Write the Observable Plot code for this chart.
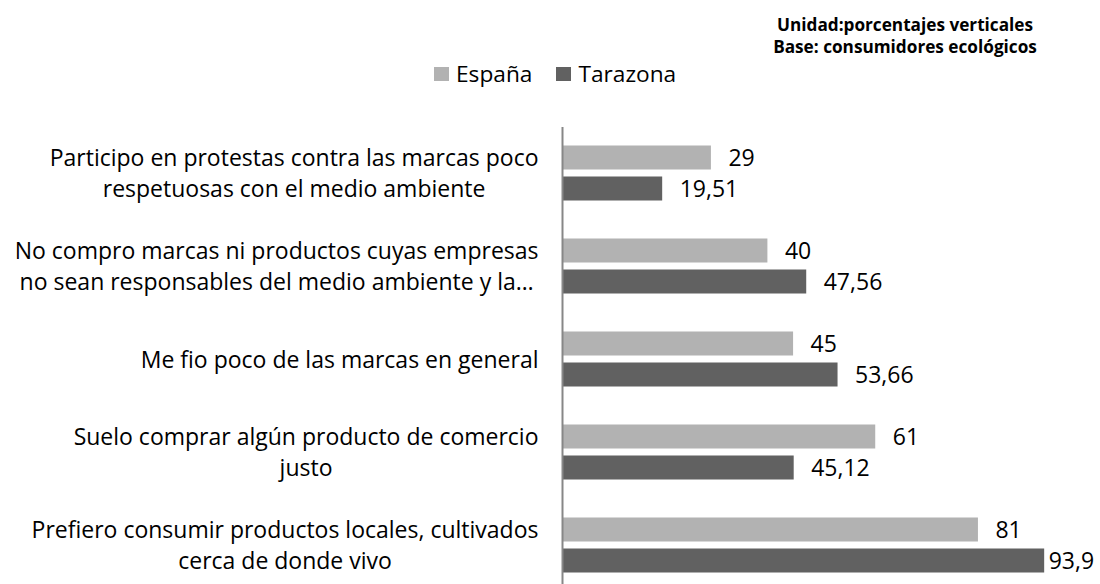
<!DOCTYPE html>
<html>
<head>
<meta charset="utf-8">
<script src="https://cdn.jsdelivr.net/npm/d3@7"></script>
<script src="https://cdn.jsdelivr.net/npm/@observablehq/plot@0.6"></script>
<style>
  body { margin: 0; overflow: hidden; background: #fff; font-family: "Open Sans", Lato, sans-serif; color: #000; }
  #top { position: relative; height: 90px; width: 1100px; }
  #note { position: absolute; left: 905px; top: 14px; transform: translateX(-50%); text-align: center;
          font-weight: 700; font-size: 17.2px; line-height: 22px; white-space: nowrap; }
  #legend { position: absolute; left: 434px; top: 60px; display: flex; align-items: center; font-size: 22.7px; line-height: 28px; }
  .item { display: flex; align-items: center; margin-right: 24px; }
  .sw { width: 15px; height: 14px; margin-right: 7px; }
</style>
</head>
<body>
<div id="top">
  <div id="note">Unidad:porcentajes verticales<br>Base: consumidores ecológicos</div>
  <div id="legend"></div>
</div>
<div id="chart"></div>
<script>
const categories = [
  "Participo en protestas contra las marcas poco\nrespetuosas con el medio ambiente",
  "No compro marcas ni productos cuyas empresas\nno sean responsables del medio ambiente y la…",
  "Me fio poco de las marcas en general",
  "Suelo comprar algún producto de comercio\njusto",
  "Prefiero consumir productos locales, cultivados\ncerca de donde vivo"
];
const series = ["España", "Tarazona"];
const espana = [29, 40, 45, 61, 81];
const tarazona = [19.51, 47.56, 53.66, 45.12, 93.9];
const colors = ["#b2b2b2", "#616161"];

const data = categories.flatMap((c, i) => [
  {category: c, series: series[0], value: espana[i]},
  {category: c, series: series[1], value: tarazona[i]}
]);
const fmt = v => String(v).replace(".", ",");

// legend
const lg = document.getElementById("legend");
series.forEach((s, i) => {
  const it = document.createElement("div");
  it.className = "item";
  const sw = document.createElement("span");
  sw.className = "sw";
  sw.style.background = colors[i];
  const tx = document.createElement("span");
  tx.textContent = s;
  it.append(sw, tx);
  lg.append(it);
});

const FONT = "'Open Sans', Lato, sans-serif";
const FS = 23;
const plot = Plot.plot({
  width: 1100,
  height: 502,
  marginLeft: 562,
  marginRight: 24.5,
  marginTop: 36.5,
  marginBottom: 0.5,
  style: {fontFamily: FONT, fontSize: FS + "px", color: "#000", background: "#fff"},
  x: {domain: [0, 100], axis: null},
  y: {domain: series, paddingInner: 0.222, paddingOuter: 0.587, axis: null},
  fy: {domain: categories, padding: 0},
  color: {domain: series, range: colors},
  marks: [
    Plot.barX(data, {x: "value", y: "series", fy: "category", fill: "series"}),
    Plot.text(data.filter(d => d.value < 90), {x: "value", y: "series", fy: "category", text: d => fmt(d.value),
      textAnchor: "start", dx: 17, dy: 1, fontSize: FS, fill: "#000"}),
    Plot.text(data.filter(d => d.value >= 90), {x: "value", y: "series", fy: "category", text: d => fmt(d.value),
      textAnchor: "start", dx: 4, dy: 1, fontSize: FS, fill: "#000"}),
    Plot.ruleX([0], {stroke: "#878787", strokeWidth: 2}),
    Plot.axisFy({anchor: "left", tickSize: 0, tickPadding: 24, label: null, fontSize: FS, lineHeight: 1.35, dy: -2, fill: "#000"})
  ]
});
document.getElementById("chart").append(plot);

// center the lines of multi-line category labels within their right-aligned block
plot.querySelectorAll('g[aria-label="fy-axis tick label"] text').forEach(t => {
  const ts = t.querySelectorAll("tspan");
  if (ts.length < 2) return;
  const w = Math.max(...[...ts].map(s => s.getComputedTextLength()));
  t.setAttribute("text-anchor", "middle");
  ts.forEach(s => s.setAttribute("x", -w / 2));
});
</script>
</body>
</html>
